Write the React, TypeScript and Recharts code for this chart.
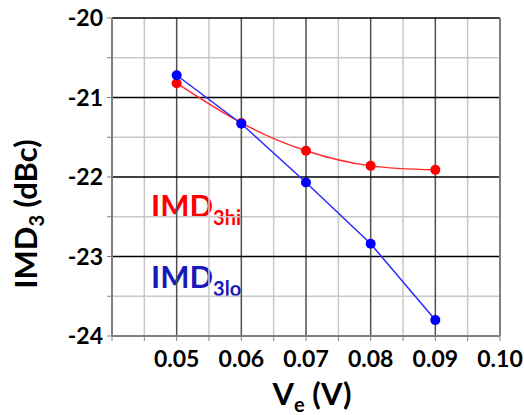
import { LineChart, Line, XAxis, YAxis, ReferenceLine } from 'recharts'

// values
const voltages = [0.05, 0.06, 0.07, 0.08, 0.09]
const imd3Hi = [-20.82, -21.32, -21.67, -21.86, -21.91]
const imd3Lo = [-20.72, -21.33, -22.07, -22.84, -23.8]

const xTicks = [0.04, 0.045, 0.05, 0.055, 0.06, 0.065, 0.07, 0.075, 0.08, 0.085, 0.09, 0.095, 0.1]
const xMajor = [0.05, 0.06, 0.07, 0.08, 0.09]
const xMinor = [0.045, 0.055, 0.065, 0.075, 0.085, 0.095]
const yTicks = [-24, -23.5, -23, -22.5, -22, -21.5, -21, -20.5, -20]
const yMajor = [-21, -22, -23]
const yMinor = [-20.5, -21.5, -22.5, -23.5]

const data = voltages.map((v, i) => ({ v, hi: imd3Hi[i], lo: imd3Lo[i] }))

const FONT = 'Lato, "Open Sans", sans-serif'

function XTick(props: any) {
  const { x, y, payload } = props
  const val = payload.value
  if (val < 0.0499 || Math.abs(val * 100 - Math.round(val * 100)) > 0.001) return null
  return (
    <text x={x} y={y} dy="0.71em" textAnchor="middle" fontFamily={FONT} fontWeight={700} fontSize={23} fill="#000">
      {val.toFixed(2)}
    </text>
  )
}

function YTick(props: any) {
  const { x, y, payload } = props
  if (!Number.isInteger(payload.value)) return null
  return (
    <text x={x} y={y} dy="0.36em" textAnchor="end" fontFamily={FONT} fontWeight={700} fontSize={23} fill="#000">
      {payload.value}
    </text>
  )
}

function YTitle() {
  return (
    <text
      x={37}
      y={214}
      transform="rotate(-90, 37, 214)"
      textAnchor="middle"
      fontFamily={FONT}
      fontWeight={700}
      fontSize={31}
      fill="#000"
    >
      IMD<tspan fontSize={20} dy={7}>3</tspan>
      <tspan dy={-7}> (dBc)</tspan>
    </text>
  )
}

function XTitle() {
  return (
    <text x={312} y={405} textAnchor="middle" fontFamily={FONT} fontWeight={700} fontSize={31} fill="#000">
      V<tspan fontSize={20} dy={7}>e</tspan>
      <tspan dy={-7}> (V)</tspan>
    </text>
  )
}

function Legend() {
  return (
    <g fontFamily={FONT} fontWeight={700}>
      <text x={151} y={217} fontSize={31} fill="#ff0000">
        IMD<tspan fontSize={20} dy={8}>3hi</tspan>
      </text>
      <text x={151} y={288} fontSize={31} fill="#1a1ab8">
        IMD<tspan fontSize={20} dy={8}>3lo</tspan>
      </text>
    </g>
  )
}

export default function App() {
  return (
    <div style={{ position: 'absolute', left: 0, top: 0, background: '#fff' }}>
      <LineChart width={524} height={415} data={data} margin={{ top: 18, right: 24, bottom: 0, left: 0 }}>
        {xMinor.map((v) => (
          <ReferenceLine key={'xm' + v} x={v} stroke="#c8c8c8" strokeWidth={1.5} />
        ))}
        {yMinor.map((v) => (
          <ReferenceLine key={'ym' + v} y={v} stroke="#c8c8c8" strokeWidth={1.5} />
        ))}
        {xMajor.map((v) => (
          <ReferenceLine key={'xM' + v} x={v} stroke="#505050" strokeWidth={1.5} />
        ))}
        {yMajor.map((v) => (
          <ReferenceLine key={'yM' + v} y={v} stroke="#000" strokeWidth={1.5} />
        ))}
        <ReferenceLine y={-20} stroke="#000" strokeWidth={1.5} />
        <ReferenceLine x={0.1} stroke="#808080" strokeWidth={2} />
        <XAxis
          dataKey="v"
          type="number"
          domain={[0.04, 0.1]}
          ticks={xTicks}
          interval={0}
          height={79}
          tick={<XTick />}
          tickSize={5}
          tickMargin={10}
          axisLine={{ stroke: '#808080', strokeWidth: 2 }}
          tickLine={{ stroke: '#808080' }}
        />
        <YAxis
          type="number"
          domain={[-24, -20]}
          ticks={yTicks}
          interval={0}
          width={112}
          tick={<YTick />}
          tickSize={5}
          tickMargin={4}
          axisLine={{ stroke: '#808080', strokeWidth: 2 }}
          tickLine={{ stroke: '#808080' }}
        />
        <Line
          dataKey="hi"
          type="natural"
          stroke="#ff2a2a"
          strokeWidth={1.5}
          dot={{ r: 5, fill: '#ff0000', stroke: '#ff0000', strokeWidth: 0 }}
          isAnimationActive={false}
        />
        <Line
          dataKey="lo"
          type="linear"
          stroke="#2a2aff"
          strokeWidth={1.5}
          dot={{ r: 5, fill: '#0000ff', stroke: '#0000ff', strokeWidth: 0 }}
          isAnimationActive={false}
        />
        <YTitle />
        <XTitle />
        <Legend />
      </LineChart>
    </div>
  )
}
